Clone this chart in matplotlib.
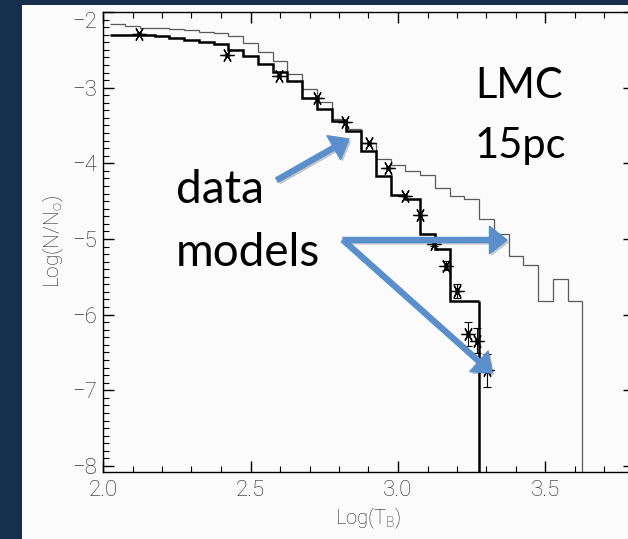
import matplotlib
matplotlib.use("Agg")
import matplotlib.pyplot as plt
from matplotlib.patches import Rectangle
from matplotlib.ticker import MultipleLocator
import matplotlib.patheffects as pe

plt.rcParams.update({
    "mathtext.fontset": "custom",
    "mathtext.rm": "Roboto:light",
    "mathtext.it": "Roboto:light",
})

# Histogram bin edges (log T_B), 0.05 wide
edges = [2.025, 2.075, 2.125, 2.175, 2.225, 2.275, 2.325, 2.375, 2.425, 2.475,
         2.525, 2.575, 2.625, 2.675, 2.725, 2.775, 2.825, 2.875, 2.925, 2.975,
         3.025, 3.075, 3.125, 3.175, 3.225, 3.275, 3.325, 3.375, 3.425, 3.475,
         3.525, 3.575, 3.625]

# thin grey model
model_thin = [-2.16, -2.19, -2.205, -2.213, -2.222, -2.235, -2.265, -2.278, -2.322, -2.408,
              -2.526, -2.648, -2.813, -3.017, -3.191, -3.409, -3.548, -3.735, -3.939, -4.018,
              -4.104, -4.148, -4.322, -4.43, -4.474, -4.735, -4.935, -5.226, -5.343, -5.822,
              -5.531, -5.822]

# thick black model
model_thick = [-2.30, -2.30, -2.309, -2.322, -2.343, -2.365, -2.395, -2.421, -2.496, -2.578,
               -2.691, -2.793, -2.916, -3.139, -3.278, -3.435, -3.572, -3.843, -4.169, -4.417,
               -4.474, -4.931, -5.126, -5.822, -5.822]

# observed data
data_logT = [2.122, 2.420, 2.598, 2.724, 2.821, 2.901, 2.967, 3.024, 3.076, 3.122,
             3.163, 3.200, 3.236, 3.269, 3.301]
data_logN = [-2.287, -2.570, -2.844, -3.139, -3.448, -3.726, -4.061, -4.433, -4.678, -5.061,
             -5.356, -5.686, -6.256, -6.343, -6.735]
data_err = [0, 0, 0, 0, 0, 0, 0, 0, 0, 0.03, 0.06, 0.09, 0.16, 0.17, 0.22]

NAVY = "#162f4d"
PANEL = "#fbfbfb"
ARROW = "#5b8fcb"
LABEL_GREY = "#222222"
LABEL_FONT = ["Roboto", "DejaVu Sans"]

fig = plt.figure(figsize=(6.28, 5.39), dpi=100, facecolor=NAVY)
fig.patches.append(Rectangle((22 / 628, 0), 1 - 22 / 628, 534 / 539,
                             transform=fig.transFigure, facecolor=PANEL,
                             edgecolor="none", zorder=-10))

ax = fig.add_axes([103 / 628, 67 / 539, 531 / 628, 460 / 539])
ax.set_zorder(1)
ax.set_facecolor("none")

ax.stairs(model_thin, edges, baseline=None, color="#5a5a5a", linewidth=0.9)
ax.vlines(edges[-1], -9, model_thin[-1], color="#5a5a5a", linewidth=0.9)
ax.stairs(model_thick, edges[:len(model_thick) + 1], baseline=None, color="black", linewidth=1.8)
ax.vlines(edges[len(model_thick)], -9, model_thick[-1], color="black", linewidth=1.8)

ax.errorbar(data_logT, data_logN, yerr=data_err, fmt="none", ecolor="black",
            elinewidth=0.8, capsize=3, capthick=0.8)
ax.plot(data_logT, data_logN, linestyle="none", marker=(6, 2, 90),
        markersize=10, markeredgecolor="black", markeredgewidth=0.9)
ax.plot(data_logT, data_logN, linestyle="none", marker="o",
        markersize=2.5, color="black")

ax.set_xlim(2.0, 3.8)
ax.set_ylim(-8.08, -2.0)
ax.xaxis.set_major_locator(MultipleLocator(0.5))
ax.xaxis.set_minor_locator(MultipleLocator(0.1))
ax.yaxis.set_major_locator(MultipleLocator(1))
ax.yaxis.set_minor_locator(MultipleLocator(0.1))
ax.tick_params(which="both", direction="in", top=True, right=True,
               colors="black", labelcolor=LABEL_GREY, labelsize=16)
ax.tick_params(which="major", length=8, width=1.0)
ax.tick_params(which="minor", length=4, width=0.8)
ax.tick_params(axis="x", pad=6)
ax.tick_params(axis="y", pad=4)
ax.xaxis.set_major_formatter(plt.FuncFormatter(lambda v, p: f"{v:.1f}"))
ax.yaxis.set_major_formatter(plt.FuncFormatter(lambda v, p: f"\u2212{abs(v):.0f}"))
for s in ax.spines.values():
    s.set_linewidth(1.0)

fig.canvas.draw()
for t in ax.yaxis.get_major_ticks():
    if abs(t.get_loc() + 2) < 1e-6:
        t.label1.set_verticalalignment("top")
for lab in ax.get_xticklabels() + ax.get_yticklabels():
    lab.set_family(LABEL_FONT)
    lab.set_fontweight("light")
    lab.set_color(LABEL_GREY)

ax.set_xlabel(r"Log(T$_{\rm B}$)", color=LABEL_GREY, fontsize=14.5, labelpad=3,
              family=LABEL_FONT, fontweight="light")
ax.set_ylabel(r"Log(N/N$_{\rm o}$)", color=LABEL_GREY, fontsize=15, labelpad=5,
              family=LABEL_FONT, fontweight="light")

# slide annotations
txt = dict(family="Lato", color="black", va="baseline", ha="left", zorder=5)
fig.text(475 / 628, 1 - 98 / 539, "LMC", fontsize=30, **txt)
fig.text(475 / 628, 1 - 158 / 539, "15pc", fontsize=30, **txt)
fig.text(176 / 628, 1 - 203 / 539, "data", fontsize=33, **txt)
fig.text(176 / 628, 1 - 266 / 539, "models", fontsize=33, **txt)

arrows = [((277, 180), (349, 139)),
          ((343, 240), (507, 240)),
          ((343, 240), (492, 373))]
for (x0, y0), (x1, y1) in arrows:
    ax.annotate("", xy=(x1, 539 - y1), xycoords="figure pixels",
                xytext=(x0, 539 - y0), textcoords="figure pixels",
                annotation_clip=False,
                arrowprops=dict(arrowstyle="simple,head_length=1.4,head_width=2.2,tail_width=0.4",
                                mutation_scale=9, color=ARROW, shrinkA=0, shrinkB=0,
                                path_effects=[pe.SimplePatchShadow(offset=(1.5, -1.5), alpha=0.25),
                                              pe.Normal()]))

fig.savefig("out.png", dpi=100, facecolor=NAVY)
